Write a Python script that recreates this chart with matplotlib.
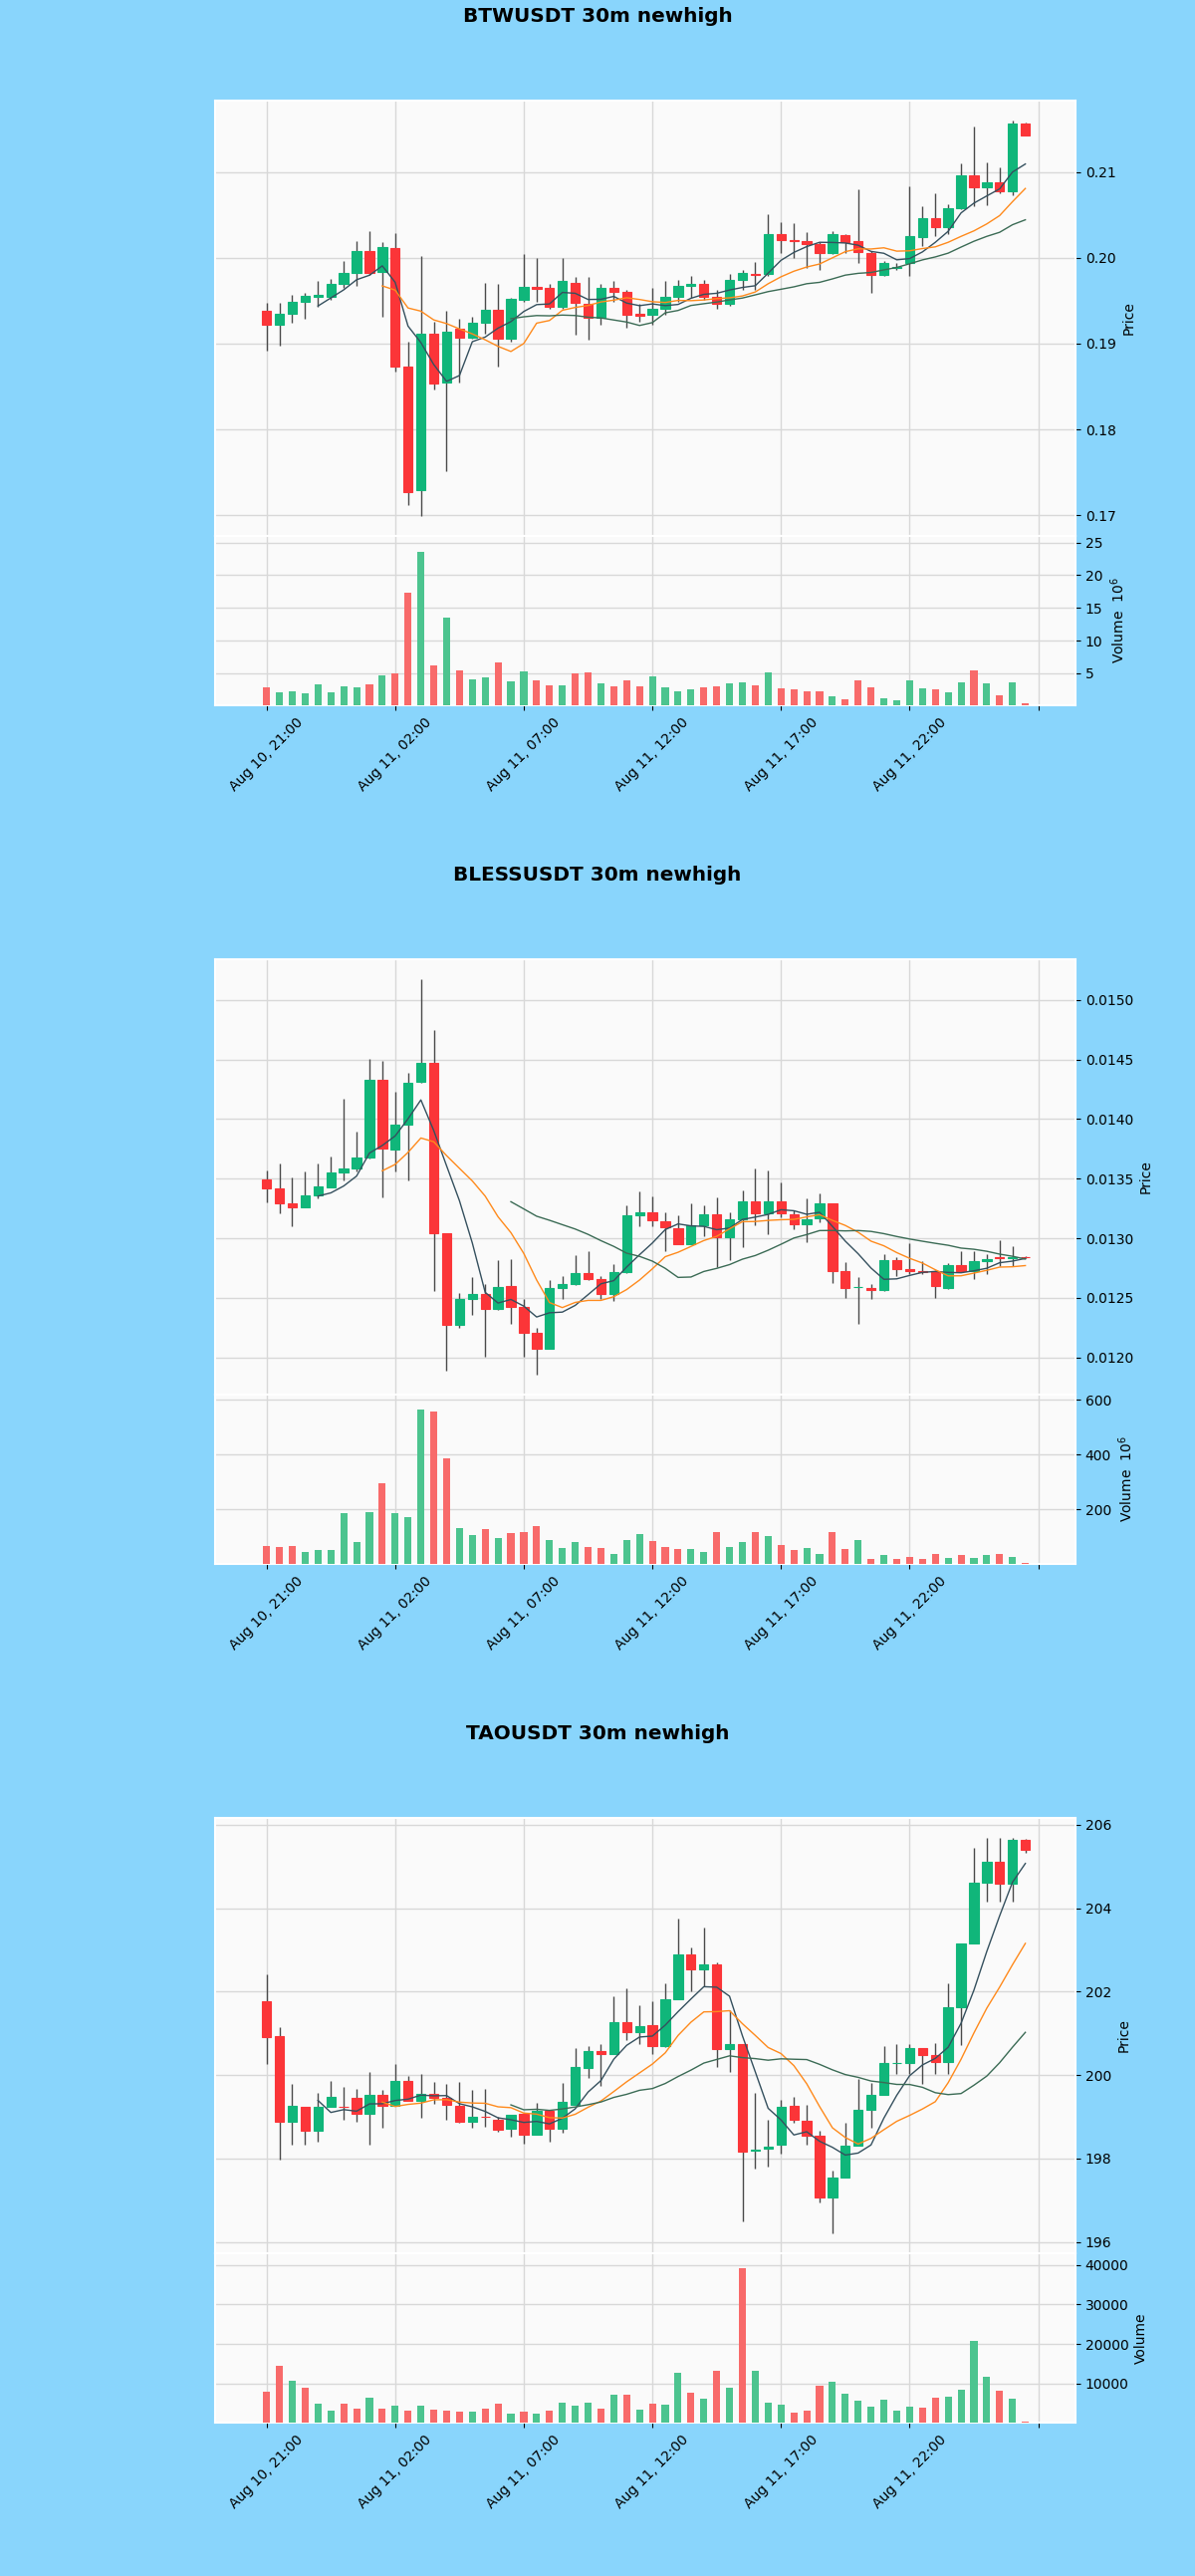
import matplotlib
matplotlib.use('Agg')
import matplotlib.pyplot as plt
import numpy as np
import pandas as pd

# ---- data ----
times = pd.date_range('2025-08-10 21:00', periods=60, freq='30min')

btw_open = [0.1938, 0.1922, 0.1935, 0.1949, 0.1955, 0.1955, 0.1969, 0.1982, 0.2008, 0.1984,
            0.2011, 0.1873, 0.1729, 0.1912, 0.1855, 0.1917, 0.1907, 0.1924, 0.1939, 0.1906,
            0.1951, 0.1966, 0.1965, 0.1943, 0.1971, 0.1946, 0.1930, 0.1965, 0.1960, 0.1935,
            0.1933, 0.1940, 0.1955, 0.1967, 0.1969, 0.1955, 0.1946, 0.1974, 0.1981, 0.1981,
            0.2027, 0.2021, 0.2020, 0.2016, 0.2005, 0.2026, 0.2019, 0.2006, 0.1980, 0.1988,
            0.1994, 0.2024, 0.2046, 0.2036, 0.2058, 0.2096, 0.2082, 0.2088, 0.2077, 0.2156]
btw_high = [0.1947, 0.1947, 0.1957, 0.1959, 0.1973, 0.1975, 0.1996, 0.2019, 0.2031, 0.2018,
            0.2029, 0.1902, 0.2002, 0.1925, 0.1938, 0.1929, 0.1931, 0.1971, 0.1969, 0.1953,
            0.2004, 0.2000, 0.1969, 0.2000, 0.1978, 0.1978, 0.1969, 0.1973, 0.1963, 0.1946,
            0.1965, 0.1973, 0.1974, 0.1979, 0.1974, 0.1963, 0.1981, 0.1986, 0.1995, 0.2051,
            0.2041, 0.2040, 0.2030, 0.2018, 0.2031, 0.2027, 0.2080, 0.2008, 0.1996, 0.1994,
            0.2083, 0.2060, 0.2075, 0.2062, 0.2110, 0.2153, 0.2111, 0.2105, 0.2160, 0.2157]
btw_low = [0.1892, 0.1898, 0.1924, 0.1929, 0.1943, 0.1951, 0.1965, 0.1967, 0.1980, 0.1931,
           0.1867, 0.1712, 0.1699, 0.1847, 0.1751, 0.1855, 0.1906, 0.1912, 0.1873, 0.1902,
           0.1949, 0.1949, 0.1941, 0.1941, 0.1910, 0.1904, 0.1922, 0.1949, 0.1918, 0.1925,
           0.1922, 0.1934, 0.1949, 0.1953, 0.1951, 0.1940, 0.1944, 0.1963, 0.1962, 0.1979,
           0.2006, 0.2000, 0.1988, 0.1986, 0.2004, 0.2006, 0.1994, 0.1959, 0.1979, 0.1986,
           0.1979, 0.2014, 0.2025, 0.2027, 0.2056, 0.2060, 0.2061, 0.2075, 0.2073, 0.2142]
btw_close = [0.1922, 0.1935, 0.1949, 0.1956, 0.1957, 0.1969, 0.1982, 0.2008, 0.1982, 0.2012,
             0.1873, 0.1727, 0.1912, 0.1854, 0.1914, 0.1907, 0.1924, 0.1939, 0.1906, 0.1952,
             0.1966, 0.1964, 0.1943, 0.1973, 0.1947, 0.1930, 0.1965, 0.1960, 0.1934, 0.1932,
             0.1940, 0.1955, 0.1967, 0.1970, 0.1955, 0.1946, 0.1974, 0.1982, 0.1980, 0.2028,
             0.2021, 0.2020, 0.2016, 0.2005, 0.2027, 0.2018, 0.2007, 0.1980, 0.1994, 0.1989,
             0.2025, 0.2046, 0.2036, 0.2058, 0.2096, 0.2082, 0.2088, 0.2077, 0.2156, 0.2143]
btw_vol_m = [2.9, 2.05, 2.3, 1.9, 3.25, 2.1, 2.95, 2.8, 3.3, 4.75,
             5.05, 17.4, 23.65, 6.25, 13.5, 5.45, 4.0, 4.3, 6.65, 3.75,
             5.3, 3.9, 3.15, 3.1, 5.05, 5.2, 3.4, 2.95, 3.95, 2.95,
             4.6, 2.9, 2.3, 2.5, 2.8, 2.95, 3.4, 3.55, 3.1, 5.1,
             2.65, 2.5, 2.3, 2.3, 1.5, 0.95, 3.9, 2.8, 1.15, 0.85,
             3.85, 2.65, 2.5, 2.05, 3.65, 5.5, 3.45, 1.65, 3.55, 0.35]

bless_open = [0.013492, 0.013416, 0.013295, 0.013261, 0.013359, 0.013430, 0.013548, 0.013584, 0.013677, 0.014325,
              0.013745, 0.013950, 0.014308, 0.014471, 0.013041, 0.012270, 0.012487, 0.012529, 0.012403, 0.012600,
              0.012422, 0.012206, 0.012073, 0.012580, 0.012614, 0.012704, 0.012656, 0.012529, 0.012712, 0.013190,
              0.013219, 0.013143, 0.013084, 0.012951, 0.013106, 0.013199, 0.013008, 0.013162, 0.013311, 0.013205,
              0.013311, 0.013199, 0.013115, 0.013171, 0.013289, 0.012721, 0.012588, 0.012585, 0.012563, 0.012816,
              0.012740, 0.012728, 0.012721, 0.012580, 0.012777, 0.012726, 0.012811, 0.012840, 0.012832, 0.012845]
bless_high = [0.013565, 0.013627, 0.013506, 0.013556, 0.013627, 0.013683, 0.014167, 0.013894, 0.014505, 0.014485,
              0.014232, 0.014386, 0.015174, 0.014744, 0.013041, 0.012543, 0.012676, 0.012614, 0.012816, 0.012825,
              0.012487, 0.012248, 0.012647, 0.012684, 0.012861, 0.012895, 0.012684, 0.012782, 0.013275, 0.013396,
              0.013351, 0.013219, 0.013190, 0.013289, 0.013275, 0.013340, 0.013219, 0.013402, 0.013584, 0.013565,
              0.013472, 0.013233, 0.013331, 0.013379, 0.013292, 0.012797, 0.012670, 0.012619, 0.012867, 0.012844,
              0.012957, 0.012811, 0.012732, 0.012788, 0.012895, 0.012895, 0.012867, 0.012985, 0.012937, 0.012848]
bless_low = [0.013303, 0.013210, 0.013098, 0.013258, 0.013331, 0.013424, 0.013486, 0.013556, 0.013669, 0.013345,
             0.013556, 0.013486, 0.014300, 0.012557, 0.011888, 0.012248, 0.012355, 0.012009, 0.012400, 0.012282,
             0.012009, 0.011854, 0.012070, 0.012487, 0.012611, 0.012650, 0.012487, 0.012473, 0.012710, 0.013098,
             0.013098, 0.012895, 0.012948, 0.012948, 0.013013, 0.012754, 0.012816, 0.012923, 0.013106, 0.013030,
             0.013176, 0.013078, 0.012965, 0.013134, 0.012628, 0.012501, 0.012282, 0.012487, 0.012560, 0.012684,
             0.012698, 0.012698, 0.012501, 0.012571, 0.012712, 0.012656, 0.012698, 0.012768, 0.012768, 0.012836]
bless_close = [0.013416, 0.013295, 0.013261, 0.013359, 0.013435, 0.013551, 0.013584, 0.013677, 0.014325, 0.013753,
               0.013950, 0.014302, 0.014471, 0.013041, 0.012270, 0.012487, 0.012529, 0.012403, 0.012591, 0.012422,
               0.012206, 0.012073, 0.012580, 0.012619, 0.012704, 0.012656, 0.012529, 0.012712, 0.013190, 0.013219,
               0.013148, 0.013092, 0.012951, 0.013106, 0.013199, 0.013008, 0.013162, 0.013311, 0.013205, 0.013311,
               0.013205, 0.013120, 0.013162, 0.013289, 0.012721, 0.012585, 0.012591, 0.012563, 0.012816, 0.012740,
               0.012728, 0.012720, 0.012600, 0.012777, 0.012726, 0.012811, 0.012825, 0.012832, 0.012845, 0.012839]
bless_vol_m = [65, 61.5, 66, 45, 52, 51, 188, 81, 192, 295,
               185, 173, 563, 558, 387, 132, 107, 128, 95, 114,
               119, 140, 90, 60, 83, 63, 59, 39, 90, 112,
               85, 61.5, 54, 54, 44, 119, 64, 81, 116, 104,
               69, 51, 58, 39, 116, 54, 90, 18.5, 35, 18.5,
               28, 21, 39, 23, 35, 23, 35, 39, 27, 4]

tao_open = [201.781, 200.931, 198.891, 199.231, 198.664, 199.239, 199.235, 199.458, 199.069, 199.522,
            199.263, 199.862, 199.393, 199.555, 199.450, 199.271, 198.891, 199.012, 198.931, 198.713,
            199.069, 198.567, 199.134, 198.713, 199.296, 200.170, 200.567, 200.510, 201.279, 201.020,
            201.198, 200.688, 201.822, 202.899, 202.534, 202.656, 200.632, 200.737, 198.200, 198.227,
            198.324, 199.255, 198.907, 198.551, 197.069, 197.555, 198.308, 199.174, 199.522, 200.280,
            200.291, 200.656, 200.470, 200.308, 201.619, 203.158, 204.623, 205.109, 204.583, 205.652]
tao_high = [202.413, 201.158, 199.798, 199.240, 199.579, 199.862, 199.717, 199.660, 200.065, 199.636,
            200.267, 199.984, 200.024, 199.846, 199.781, 199.846, 199.636, 199.660, 199.010, 199.060,
            199.090, 199.336, 199.140, 199.822, 200.656, 200.688, 200.753, 201.887, 202.089, 201.684,
            201.765, 202.211, 203.749, 203.061, 203.547, 202.700, 201.563, 200.740, 199.579, 198.931,
            199.417, 199.474, 199.296, 198.664, 197.717, 198.850, 199.903, 199.822, 200.688, 200.753,
            200.753, 200.660, 200.769, 202.211, 203.160, 205.449, 205.692, 205.692, 205.692, 205.660]
tao_low = [200.267, 197.984, 198.340, 198.340, 198.405, 199.235, 198.931, 198.891, 198.324, 198.729,
           199.260, 199.380, 198.972, 199.312, 198.931, 198.850, 198.729, 198.769, 198.648, 198.526,
           198.364, 198.560, 198.405, 198.607, 199.290, 199.943, 199.741, 200.500, 200.834, 200.753,
           200.494, 200.680, 201.820, 202.008, 202.130, 200.186, 200.065, 196.502, 197.757, 197.798,
           198.121, 198.850, 198.340, 196.947, 196.203, 197.550, 198.300, 198.729, 199.520, 200.024,
           200.024, 199.781, 200.024, 200.024, 200.713, 203.150, 204.154, 204.154, 204.154, 205.328]
tao_close = [200.915, 198.891, 199.255, 198.664, 199.239, 199.474, 199.231, 199.069, 199.538, 199.255,
             199.862, 199.393, 199.555, 199.458, 199.279, 198.891, 199.012, 199.008, 198.688, 199.053,
             198.567, 199.134, 198.713, 199.360, 200.186, 200.575, 200.510, 201.279, 201.020, 201.182,
             200.688, 201.822, 202.899, 202.534, 202.656, 200.632, 200.737, 198.162, 198.210, 198.283,
             199.239, 198.931, 198.551, 197.069, 197.555, 198.308, 199.174, 199.522, 200.283, 200.290,
             200.656, 200.470, 200.308, 201.619, 203.158, 204.623, 205.109, 204.583, 205.652, 205.409]
tao_vol = [7810, 14380, 10690, 8800, 4770, 3040, 4770, 3700, 6330, 3700,
           4360, 3120, 4360, 3290, 3120, 2880, 2880, 3700, 4770, 2380,
           2880, 2380, 3120, 5010, 4360, 5180, 3700, 7150, 7150, 3370,
           4850, 4690, 12580, 7560, 6170, 13150, 8800, 39050, 13150, 5010,
           4520, 2710, 3120, 9450, 10440, 7400, 5510, 4110, 6000, 3040,
           4110, 3860, 6330, 6740, 8470, 20710, 11750, 8220, 6170, 250]

charts = [
    ('BTWUSDT 30m newhigh', btw_open, btw_high, btw_low, btw_close, btw_vol_m, 'Volume  $10^{6}$'),
    ('BLESSUSDT 30m newhigh', bless_open, bless_high, bless_low, bless_close, bless_vol_m, 'Volume  $10^{6}$'),
    ('TAOUSDT 30m newhigh', tao_open, tao_high, tao_low, tao_close, tao_vol, 'Volume'),
]

# ---- style ----
BG = '#89d5fc'
FACE = '#fafafa'
GRID = '#d8d8d8'
UP, DOWN = '#10b67a', '#fb3538'
VUP, VDOWN = '#4cc48f', '#f86a6a'
WICK = '#4a4a4a'
MAV = [(5, '#35505e'), (10, '#ff8a1c'), (20, '#3b6b55')]

W, H = 1200, 2586
CH = 862  # height of one chart block


def box(left, top, right, bottom):
    return [left / W, 1 - bottom / H, (right - left) / W, (bottom - top) / H]


def style_ax(ax):
    ax.set_facecolor(FACE)
    for s in ax.spines.values():
        s.set_color('white')
        s.set_linewidth(1.5)
    ax.grid(True, color=GRID, linewidth=1.0)
    ax.set_axisbelow(True)
    ax.yaxis.tick_right()
    ax.yaxis.set_label_position('right')
    ax.tick_params(labelsize=10)


fig = plt.figure(figsize=(W / 100, H / 100), dpi=100, facecolor=BG)

x = np.arange(len(times))
tick_idx = np.arange(0, 61, 10)
tick_lbl = [times[i].strftime('%b %d, %H:%M') if i < len(times) else '' for i in tick_idx]

for k, (title, o, h, l, c, v, vlabel) in enumerate(charts):
    y0 = CH * k
    o, h, l, c, v = map(np.asarray, (o, h, l, c, v))
    up = c >= o

    axp = fig.add_axes(box(216, 101 + y0, 1080, 538 + y0))
    axv = fig.add_axes(box(216, 538 + y0, 1080, 708 + y0), sharex=axp)
    style_ax(axp)
    style_ax(axv)

    # candles
    axp.vlines(x, l, h, color=WICK, linewidth=1.0, zorder=2)
    colors = np.where(up, UP, DOWN)
    axp.bar(x, np.abs(c - o), bottom=np.minimum(o, c), width=0.72,
            color=colors, edgecolor=colors, linewidth=0.8, zorder=3)

    # moving averages
    close_s = pd.Series(c)
    for n, col in MAV:
        axp.plot(x, close_s.rolling(n).mean(), color=col, linewidth=1.0, zorder=4)

    lo, hi = l.min(), h.max()
    pad = 0.05 * (hi - lo)
    axp.set_ylim(lo - pad, hi + pad)
    axp.set_ylabel('Price', fontsize=10)
    axp.tick_params(axis='x', labelbottom=False, length=0)

    # volume
    axv.bar(x, v, width=0.55, color=np.where(up, VUP, VDOWN), zorder=3)
    axv.set_ylim(0.3 * v.min(), 1.1 * v.max())
    axv.set_ylabel(vlabel, fontsize=10)

    axv.set_xlim(-4, 62.9)
    axv.set_xticks(tick_idx)
    axv.set_xticklabels(tick_lbl, rotation=45, ha='center', fontsize=10)

    fig.text(0.5, 1 - (16 + y0) / H, title, ha='center', va='center',
             fontsize=14.4, fontweight='bold')

fig.savefig('out.png', dpi=100, facecolor=BG)
